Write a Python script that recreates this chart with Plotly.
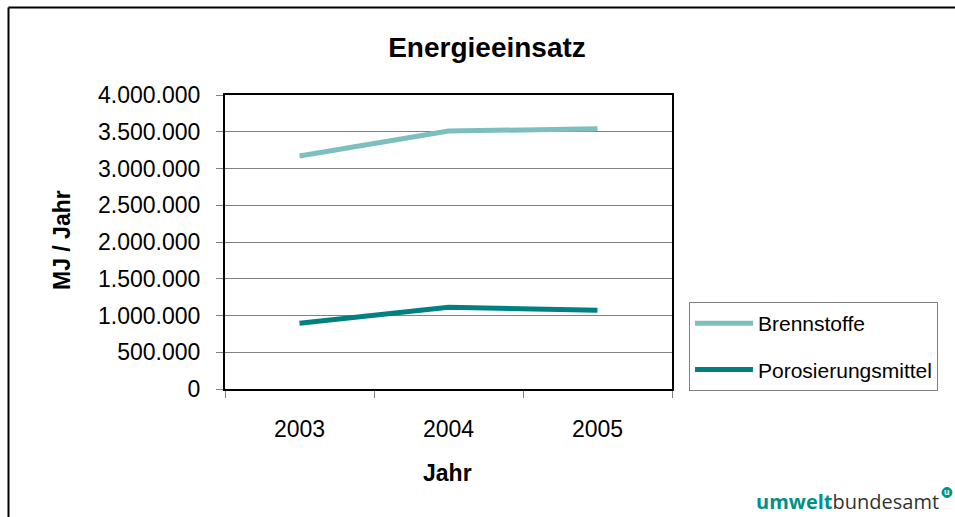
import plotly.graph_objects as go

years = ["2003", "2004", "2005"]
brennstoffe = [3170000, 3510000, 3540000]
porosierungsmittel = [894000, 1112000, 1071000]
series_names = ["Brennstoffe", "Porosierungsmittel"]
y_ticks = [0, 500000, 1000000, 1500000, 2000000, 2500000, 3000000, 3500000, 4000000]

W, H = 955, 517
L, R, T, B = 225, 672, 95, 389  # plot area in px


def px(x):
    return (x - L) / (R - L)


def py(y):
    return (B - y) / (B - T)


FONT = "Liberation Sans, Arial, sans-serif"

fig = go.Figure()
fig.add_trace(go.Scatter(x=years, y=brennstoffe, name=series_names[0], mode="lines",
                         legendgroup="a",
                         line=dict(color="#7CBFBE", width=5)))
fig.add_trace(go.Scatter(x=years, y=porosierungsmittel, name=series_names[1], mode="lines",
                         legendgroup="b",
                         line=dict(color="#008080", width=5)))

fig.update_layout(
    width=W, height=H,
    margin=dict(l=L, r=W - R, t=T, b=H - B, autoexpand=False),
    paper_bgcolor="white", plot_bgcolor="white",
    separators=",.",
    font=dict(family=FONT, color="black", size=23),
    title=dict(text="<b>Energieeinsatz</b>", font=dict(size=28, family=FONT, color="black"),
               x=487 / W, xanchor="center", y=1 - 47 / H, yanchor="middle",
               xref="container", yref="container"),
    showlegend=True,
    legend=dict(x=px(689), xanchor="left", y=py(302), yanchor="top",
                bordercolor="#808080", borderwidth=1, bgcolor="white",
                font=dict(size=21, family=FONT, color="black"),
                itemwidth=58, traceorder="grouped", tracegroupgap=16),
    xaxis=dict(type="category", range=[-0.5, 2.5], showline=True, linecolor="black", linewidth=2,
               mirror=True, ticks="outside", tickson="boundaries", ticklen=7, tickcolor="#808080",
               tickwidth=1, showgrid=False, ticklabelstandoff=18,
               tickfont=dict(size=23, family=FONT, color="black"), fixedrange=True),
    yaxis=dict(range=[0, 4000000], tickvals=y_ticks, tickformat=",d",
               showline=True, linecolor="black", linewidth=2, mirror=True,
               ticks="outside", ticklen=7, tickcolor="#808080", tickwidth=1,
               showgrid=True, gridcolor="#808080", gridwidth=1, zeroline=False,
               ticklabelstandoff=11,
               tickfont=dict(size=23, family=FONT, color="black"), fixedrange=True),
)

# axis titles
fig.add_annotation(text="<b>MJ / Jahr</b>", x=px(62), y=py(240), xref="paper", yref="paper",
                   textangle=-90, showarrow=False, font=dict(size=23, family=FONT, color="black"),
                   xanchor="center", yanchor="middle")
fig.add_annotation(text="<b>Jahr</b>", x=px(447), y=py(473), xref="paper", yref="paper",
                   showarrow=False, font=dict(size=23, family=FONT, color="black"),
                   xanchor="center", yanchor="middle")

# outer frame (left and top)
fig.add_shape(type="line", xref="paper", yref="paper", x0=px(8.5), x1=px(960), y0=py(7.5), y1=py(7.5),
              line=dict(color="black", width=2))
fig.add_shape(type="line", xref="paper", yref="paper", x0=px(8.5), x1=px(8.5), y0=py(7.5), y1=py(520),
              line=dict(color="black", width=2))

# logo
fig.add_annotation(text="<span style='color:#00908A'><b>umwelt</b></span><span style='color:#333333'>bundesamt</span>",
                   x=px(941), y=py(501), xref="paper", yref="paper", showarrow=False,
                   xanchor="right", yanchor="middle", font=dict(size=20, family="Open Sans, sans-serif"))
fig.add_shape(type="circle", xref="paper", yref="paper", x0=px(942), x1=px(952), y0=py(487.5), y1=py(497.5),
              fillcolor="#00908A", line=dict(color="#00908A", width=1))
fig.add_annotation(text="<b>u</b>", x=px(947), y=py(492.5), xref="paper", yref="paper", showarrow=False,
                   xanchor="center", yanchor="middle", font=dict(size=9, family=FONT, color="white"))

fig.write_html("out.html", config={"displayModeBar": False},
               post_script="document.body.style.margin='0';document.body.style.overflow='hidden';")
